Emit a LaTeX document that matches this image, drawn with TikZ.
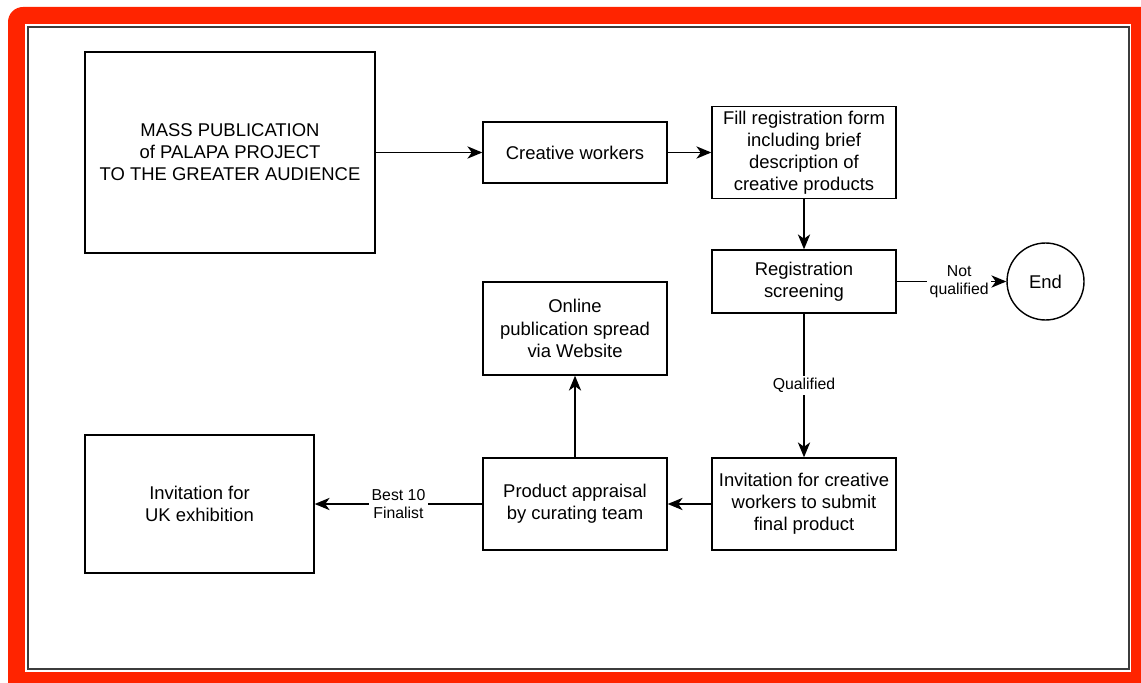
\documentclass[tikz,border=0pt]{standalone}
\usepackage{fontspec}
\setmainfont{Liberation Sans}
\definecolor{framered}{RGB}{255, 36, 0}
\definecolor{framegray}{RGB}{60, 60, 60}
\usetikzlibrary{arrows.meta, positioning}

\begin{document}
\begin{tikzpicture}[
  x=0.02cm, y=-0.02cm,
  box/.style={draw, line width=0.8pt, align=center, font=\fontsize{10.5}{12.6}\selectfont,
    minimum width=3.68cm, minimum height=1.84cm, inner sep=2pt},
  lbl/.style={fill=white, align=center, inner sep=1.5pt, font=\fontsize{9}{10.5}\selectfont},
  arr/.style={-{Stealth[length=8.5pt, width=7pt, inset=2.5pt]}, line width=0.8pt}
]
  \useasboundingbox (0,0) rectangle (1141,682);

  % Frame
  \fill[framered, rounded corners=0.3cm] (8,7) rectangle (1170,710);
  \fill[white] (25,24) rectangle (1131,672);
  \draw[framegray, line width=1.1pt] (28,27) rectangle (1129,669);

  % Top row
  \node[box, minimum width=5.8cm, minimum height=4.02cm] (mass) at (230,152.5)
    {MASS PUBLICATION\\of PALAPA PROJECT\\TO THE GREATER AUDIENCE};
  \node[box, minimum height=1.22cm] (workers) at (575,152.5) {Creative workers};
  \node[box] (form) at (804,152.5)
    {Fill registration form\\including brief\\description of\\creative products};

  % Screening
  \node[box, minimum height=1.26cm] (screen) at (804,281.5) {Registration\\screening};
  \node[draw, circle, line width=0.8pt, minimum size=1.54cm, inner sep=0pt,
    font=\fontsize{10.5}{12.6}\selectfont] (finish) at (1045.5,281.5) {End};

  % Bottom row
  \node[box, minimum height=1.86cm] (online) at (575,328.5)
    {Online\\publication spread\\via Website};
  \node[box] (appraisal) at (575,504) {Product appraisal\\by curating team};
  \node[box] (invite) at (804,504)
    {Invitation for creative\\workers to submit\\final product};
  \node[box, minimum width=4.58cm, minimum height=2.76cm] (uk) at (199.5,504)
    {Invitation for\\UK exhibition};

  % Connectors
  \draw[arr] (mass) -- (workers);
  \draw[arr] (workers) -- (form);
  \draw[arr] (form) -- (screen);
  \draw[arr] (screen) -- (finish) node[lbl, pos=0.57] {Not\\qualified};
  \draw[arr] (screen) -- (invite) node[lbl, midway] {Qualified};
  \draw[arr] (invite) -- (appraisal);
  \draw[arr] (appraisal) -- (online);
  \draw[arr] (appraisal) -- (uk) node[lbl, midway] {Best 10\\Finalist};
\end{tikzpicture}
\end{document}
